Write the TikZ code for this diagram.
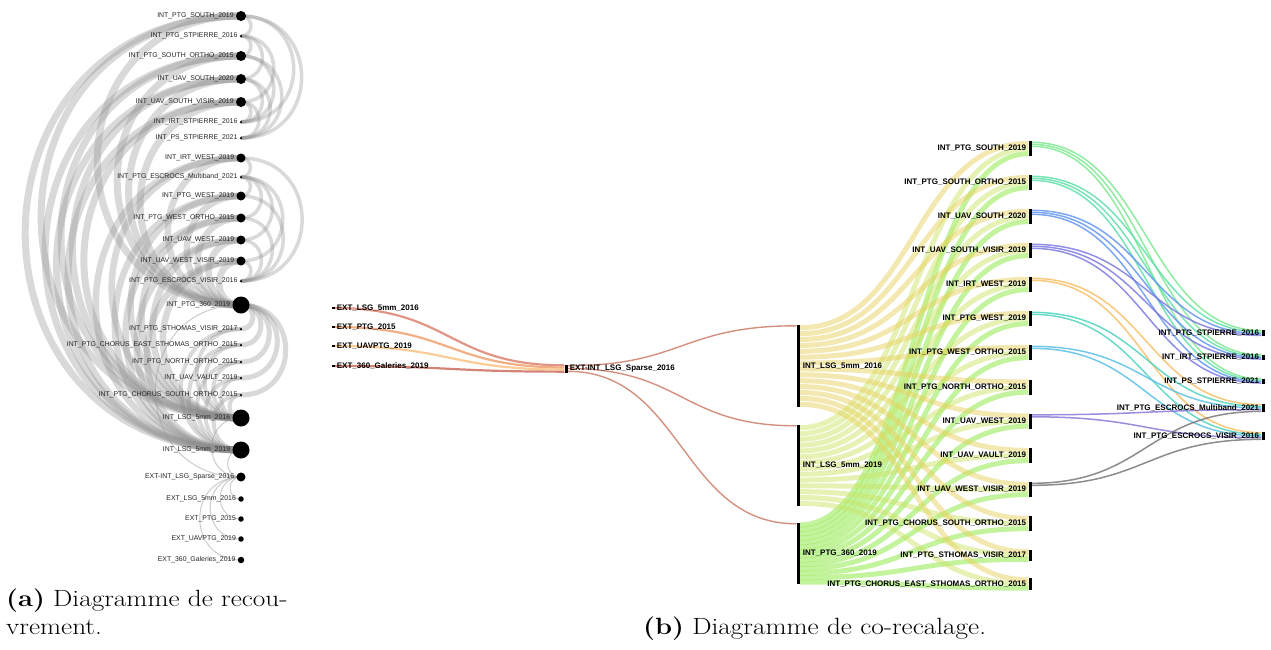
\documentclass[tikz,border=0pt]{standalone}
\usepackage{fontspec}
\usepackage{graphicx}
\newfontfamily\lab{Liberation Sans}
\usetikzlibrary{calc}
\pgfdeclarelayer{bg}
\pgfsetlayers{bg,main}
\definecolor{fy}{RGB}{232,210,95}
\definecolor{fyg}{RGB}{205,228,105}
\definecolor{fg}{RGB}{135,232,60}
\definecolor{cA}{RGB}{125,232,145}
\definecolor{cB}{RGB}{95,222,170}
\definecolor{cC}{RGB}{100,150,240}
\definecolor{cD}{RGB}{125,122,225}
\definecolor{cE}{RGB}{248,190,100}
\definecolor{cF}{RGB}{80,212,190}
\definecolor{cG}{RGB}{90,192,230}
\definecolor{cH}{RGB}{140,120,215}
\definecolor{cI}{RGB}{120,120,120}
\definecolor{e1c}{RGB}{220,130,110}
\definecolor{e2c}{RGB}{240,160,110}
\definecolor{e3c}{RGB}{250,195,130}
\definecolor{e4c}{RGB}{205,110,95}
\definecolor{xc}{RGB}{205,125,105}
\begin{document}
\begin{tikzpicture}[x=1pt,y=-1pt,
  ldot/.style={circle,fill=black,inner sep=0pt,minimum size=#1},
  ltxt/.style={font=\lab\fontsize{6.9}{7}\selectfont,text=black!85,inner sep=0pt},
  larc/.style={draw=black!45,draw opacity=0.33,line width=#1},
  earc/.style={draw=black!40,draw opacity=0.5,line width=1pt},
  bar/.style={fill=black,inner sep=0pt,minimum width=3pt,minimum height=#1},
  rtxt/.style={font=\lab\bfseries\fontsize{8}{9}\selectfont,inner sep=0pt},
  flow/.style={draw=#1,draw opacity=0.5,line width=5pt},
  tlink/.style={draw=#1,draw opacity=0.85,line width=1.5pt},
  captxt/.style={font=\fontsize{23.5}{28}\selectfont,inner sep=0pt}]
\useasboundingbox (0,0) rectangle (1271,649);

% ---------- (a) arc diagram: nodes ----------
\foreach \n/\y/\s/\t in {
 a1/16/10/{INT\_PTG\_SOUTH\_2019},
 a2/36/2.5/{INT\_PTG\_STPIERRE\_2016},
 a3/56/10/{INT\_PTG\_SOUTH\_ORTHO\_2015},
 a4/79/10/{INT\_UAV\_SOUTH\_2020},
 a5/102/10/{INT\_UAV\_SOUTH\_VISIR\_2019},
 a6/122/2.5/{INT\_IRT\_STPIERRE\_2016},
 a7/138/2.5/{INT\_PS\_STPIERRE\_2021},
 a8/158/9/{INT\_IRT\_WEST\_2019},
 a9/177/2.5/{INT\_PTG\_ESCROCS\_Multiband\_2021},
 a10/196/9/{INT\_PTG\_WEST\_2019},
 a11/218/9/{INT\_PTG\_WEST\_ORTHO\_2015},
 a12/240/9/{INT\_UAV\_WEST\_2019},
 a13/261/9/{INT\_UAV\_WEST\_VISIR\_2019},
 a14/281/2.5/{INT\_PTG\_ESCROCS\_VISIR\_2016},
 a15/305/17/{INT\_PTG\_360\_2019},
 a16/329/2.5/{INT\_PTG\_STHOMAS\_VISIR\_2017},
 a17/345/2.5/{INT\_PTG\_CHORUS\_EAST\_STHOMAS\_ORTHO\_2015},
 a18/362/2.5/{INT\_PTG\_NORTH\_ORTHO\_2015},
 a19/378/2.5/{INT\_UAV\_VAULT\_2019},
 a20/395/2.5/{INT\_PTG\_CHORUS\_SOUTH\_ORTHO\_2015},
 a21/418/17/{INT\_LSG\_5mm\_2016},
 a22/450/17/{INT\_LSG\_5mm\_2019},
 a23/477/9/{EXT-INT\_LSG\_Sparse\_2016},
 a24/499/5.5/{EXT\_LSG\_5mm\_2016},
 a25/519/5.5/{EXT\_PTG\_2015},
 a26/539/5.5/{EXT\_UAVPTG\_2019},
 a27/560/6.5/{EXT\_360\_Galeries\_2019}}{
  \node[ldot=\s] (\n) at (241,\y) {};
  \node[ltxt,anchor=east] (\n t) at ($(\n.west)+(-2,0)$) {\t};
}

\begin{pgfonlayer}{bg}
% big arcs on the left
\foreach \m/\w in {a1/7,a3/7,a4/7,a5/7,a8/6.5,a10/6.5,a11/6.5,a12/6.5,a13/6.5,a16/4,a17/4,a18/4,a19/4,a20/4}{
  \draw[larc=\w] (\m.center) to[out=180,in=180,looseness=1.7] (a21.center);
  \draw[larc=\w] (\m.center) to[out=180,in=180,looseness=1.7] (a22.center);
}
\foreach \m/\w in {a1/7,a3/7,a4/7,a5/7,a8/6.5,a10/6.5,a11/6.5,a12/6.5,a13/6.5}{
  \draw[larc=\w] (\m.center) to[out=180,in=180,looseness=1.7] (a15.center);
}
% arcs on the right
\foreach \m in {a16,a17,a18,a19,a20}{
  \draw[larc=5] (a15.center) to[out=0,in=0,looseness=1.7] (\m.center);
}
\foreach \m in {a1,a3,a4,a5}{
  \foreach \r in {a2,a6,a7}{
    \draw[larc=3.5] (\m.center) to[out=0,in=0,looseness=1.7] (\r.center);
  }
}
\foreach \m in {a8,a10,a11,a12,a13}{
  \foreach \r in {a9,a14}{
    \draw[larc=3.5] (\m.center) to[out=0,in=0,looseness=1.7] (\r.center);
  }
}
% thin EXT arcs
\foreach \m in {a15,a21,a22}{
  \draw[earc] (\m.center) to[out=180,in=180,looseness=1.7] (a23.center);
}
\foreach \m in {a24,a25,a26,a27}{
  \draw[earc] (a23.center) to[out=180,in=180,looseness=1.7] (\m.center);
}
\end{pgfonlayer}

% ---------- (b) sankey: nodes ----------
\foreach \n/\y/\t in {e1/308/{EXT\_LSG\_5mm\_2016},e2/327/{EXT\_PTG\_2015},e3/346/{EXT\_UAVPTG\_2019},e4/366/{EXT\_360\_Galeries\_2019}}{
  \node[fill=black,inner sep=0pt,minimum width=3pt,minimum height=2pt] (\n) at (333,\y) {};
  \node[rtxt,anchor=west] (\n t) at ($(\n.east)+(2,0)$) {\t};
}
\node[bar=8pt] (X) at (566,368.5) {};
\node[rtxt,anchor=west] (Xt) at ($(X.east)+(2,0)$) {EXT-INT\_LSG\_Sparse\_2016};

\node[bar=82pt] (S1) at (798,366) {};
\node[bar=81pt] (S2) at (798,465.5) {};
\node[bar=61pt] (S3) at (798,553.5) {};
\node[rtxt,anchor=west] (S1t) at ($(S1.east)+(3,0)$) {INT\_LSG\_5mm\_2016};
\node[rtxt,anchor=west] (S2t) at ($(S2.east)+(3,0)$) {INT\_LSG\_5mm\_2019};
\node[rtxt,anchor=west] (S3t) at ($(S3.east)+(3,0)$) {INT\_PTG\_360\_2019};

\foreach \n/\y/\h/\t in {
 m1/148.5/15/{INT\_PTG\_SOUTH\_2019},
 m2/182.5/15/{INT\_PTG\_SOUTH\_ORTHO\_2015},
 m3/216.5/15/{INT\_UAV\_SOUTH\_2020},
 m4/250.5/15/{INT\_UAV\_SOUTH\_VISIR\_2019},
 m5/284.5/15/{INT\_IRT\_WEST\_2019},
 m6/318.5/15/{INT\_PTG\_WEST\_2019},
 m7/352.5/15/{INT\_PTG\_WEST\_ORTHO\_2015},
 m8/387/15/{INT\_PTG\_NORTH\_ORTHO\_2015},
 m9/421/15/{INT\_UAV\_WEST\_2019},
 m10/455.5/15/{INT\_UAV\_VAULT\_2019},
 m11/489.5/15/{INT\_UAV\_WEST\_VISIR\_2019},
 m12/523.5/15/{INT\_PTG\_CHORUS\_SOUTH\_ORTHO\_2015},
 m13/555.5/11/{INT\_PTG\_STHOMAS\_VISIR\_2017},
 m14/584/12/{INT\_PTG\_CHORUS\_EAST\_STHOMAS\_ORTHO\_2015}}{
  \node[bar=\h pt] (\n) at (1030,\y) {};
  \node[rtxt,anchor=east] (\n t) at ($(\n.west)+(-2,0)$) {\t};
}

\foreach \n/\y/\h/\t in {
 r1/333/6/{INT\_PTG\_STPIERRE\_2016},
 r2/357/5/{INT\_IRT\_STPIERRE\_2016},
 r3/381/5/{INT\_PS\_STPIERRE\_2021},
 r4/408/8/{INT\_PTG\_ESCROCS\_Multiband\_2021},
 r5/436/8/{INT\_PTG\_ESCROCS\_VISIR\_2016}}{
  \node[bar=\h pt] (\n) at (1263,\y) {};
  \node[rtxt,anchor=east] (\n t) at ($(\n.west)+(-2,0)$) {\t};
}

\begin{pgfonlayer}{bg}
% EXT -> EXT-INT
\foreach \e/\c/\i in {e1/e1c/1,e2/e2c/2,e3/e3c/3,e4/e4c/4}{
  \pgfmathsetmacro\fa{(\i-0.5)/4}
  \draw[draw=\c,line width=2.2pt,draw opacity=0.85] (\e.east) .. controls +(116,0) and +(-116,0) .. ($(X.north west)!\fa!(X.south west)$);
}
% EXT-INT -> sources
\foreach \s/\i in {S1/1,S2/2,S3/3}{
  \pgfmathsetmacro\fa{(\i-0.5)/3}
  \draw[draw=xc,line width=1.4pt,draw opacity=0.85] ($(X.north east)!\fa!(X.south east)$) .. controls +(115,0) and +(-115,0) .. ($(\s.north west)+(0,1)$);
}
% sources -> middle
\foreach \s/\c/\i in {S3/fg/3,S2/fyg/2,S1/fy/1}{
  \foreach \k in {1,...,14}{
    \pgfmathsetmacro\fa{(\k-0.5)/14}
    \pgfmathsetmacro\fb{(\i-0.5)/3}
    \draw[flow=\c] ($(\s.north east)!\fa!(\s.south east)$) .. controls +(115,0) and +(-115,0) .. ($(m\k.north west)!\fb!(m\k.south west)$);
  }
}
% middle -> right
\foreach \m/\c/\i in {m1/cA/1,m2/cB/2,m3/cC/3,m4/cD/4}{
  \foreach \r/\j in {r1/1,r2/2,r3/3}{
    \pgfmathsetmacro\fb{(\i-0.5)/4}
    \draw[tlink=\c] ($(\m.north east)+(0,{2*\j-0.5})$) .. controls +(115,0) and +(-115,0) .. ($(\r.north west)!\fb!(\r.south west)$);
  }
}
\foreach \m/\c/\i in {m5/cE/1,m6/cF/2,m7/cG/3,m9/cH/4,m11/cI/5}{
  \foreach \r/\j in {r4/1,r5/2}{
    \pgfmathsetmacro\fb{(\i-0.5)/5}
    \draw[tlink=\c] ($(\m.north east)+(0,{2*\j-0.5})$) .. controls +(115,0) and +(-115,0) .. ($(\r.north west)!\fb!(\r.south west)$);
  }
}
\end{pgfonlayer}

% ---------- captions ----------
\node[captxt,anchor=base west] (capa1) at (6,606) {\scalebox{1.16}[1]{\textbf{(a)} Diagramme de recou-}};
\node[captxt,anchor=base west] (capa2) at (6,634) {\scalebox{1.16}[1]{vrement.}};
\node[captxt,anchor=base west] (capb) at (643,634) {\scalebox{1.16}[1]{\textbf{(b)} Diagramme de co-recalage.}};
\end{tikzpicture}
\end{document}
